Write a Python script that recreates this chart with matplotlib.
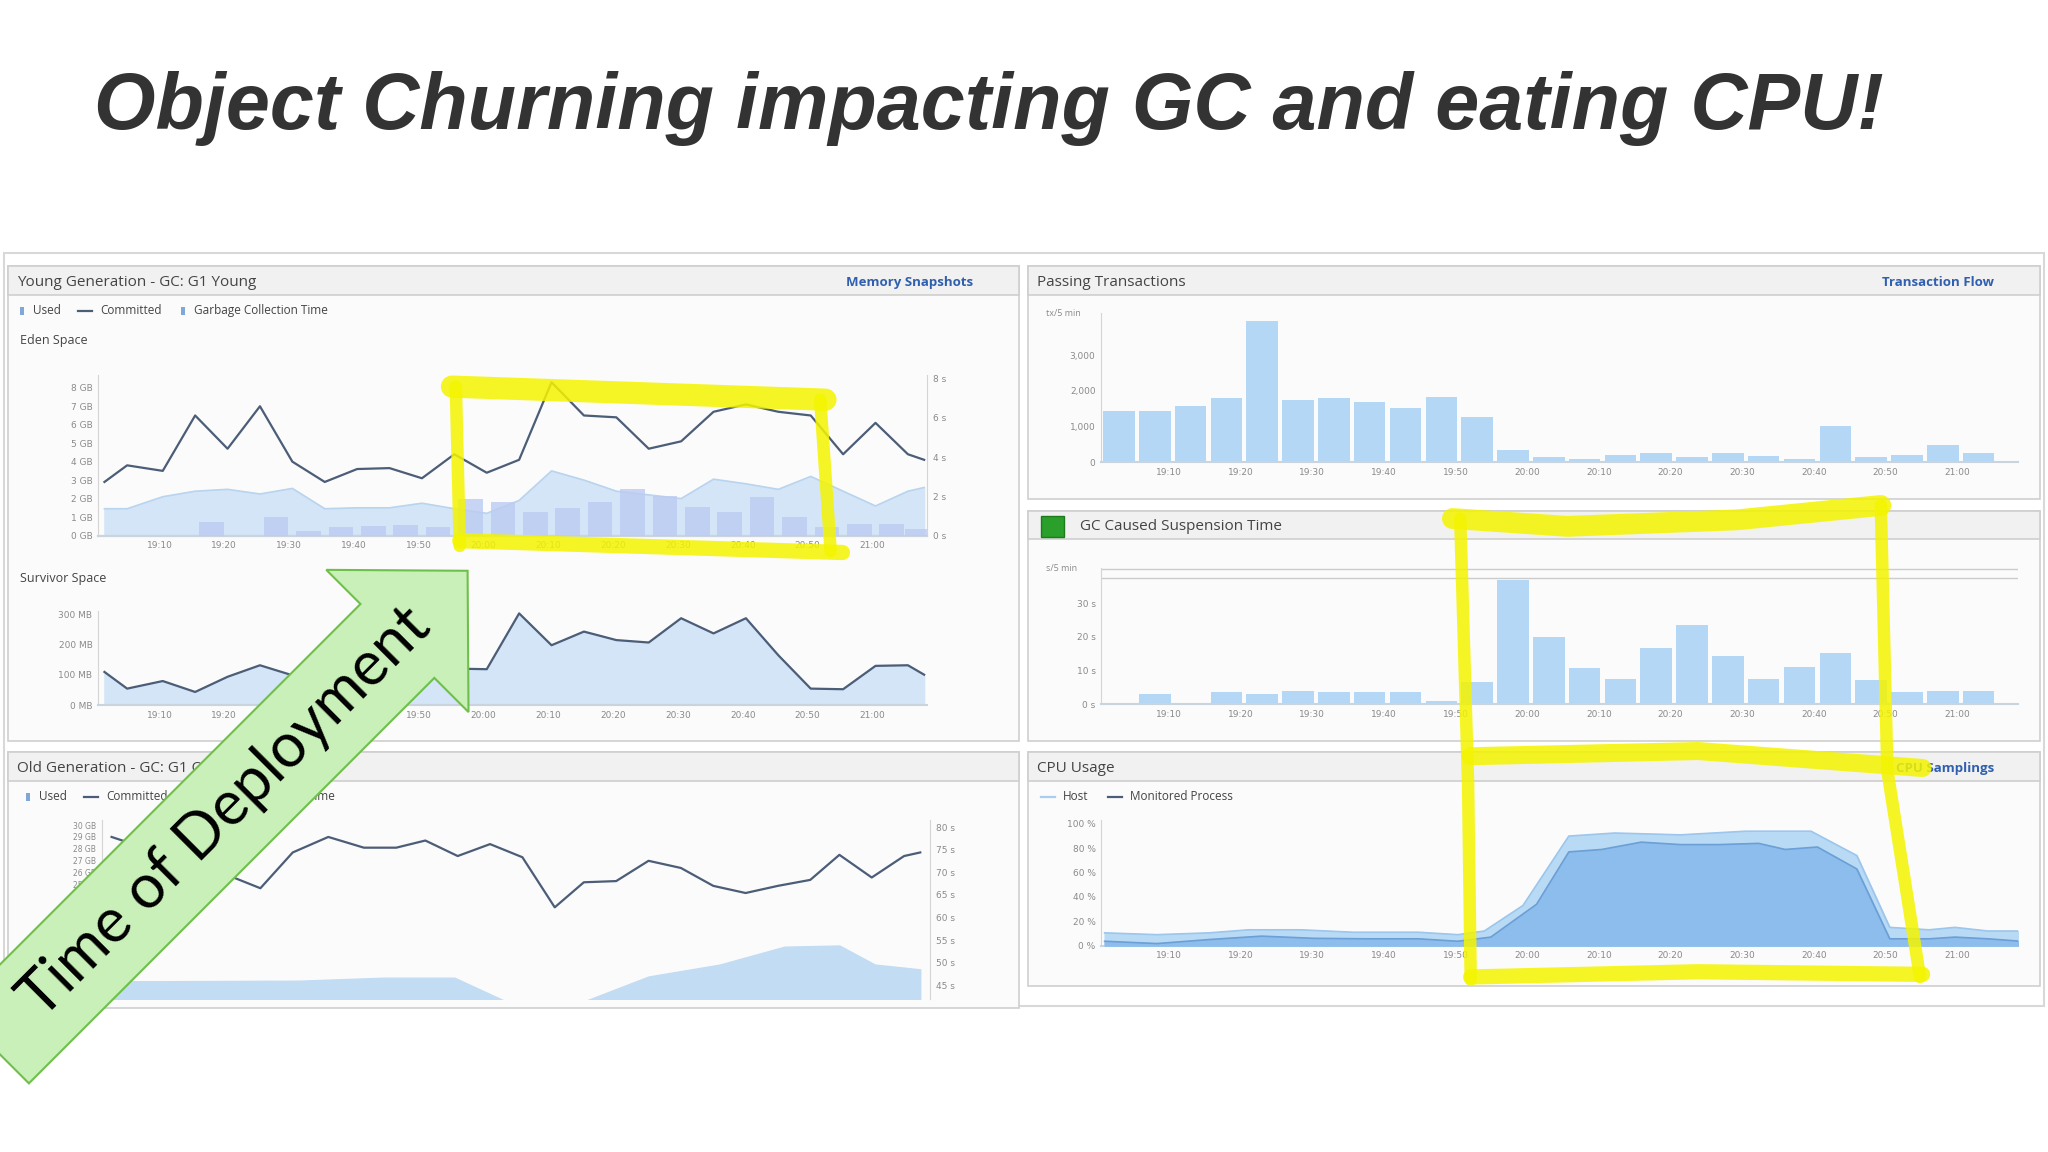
import matplotlib
matplotlib.use("Agg")
import matplotlib.pyplot as plt
from matplotlib.patches import Rectangle, Polygon
import numpy as np

# ---- data (time = minutes after 19:00) ----
tick_min = [10, 20, 30, 40, 50, 60, 70, 80, 90, 100, 110, 120]
tick_lbl = ["19:10", "19:20", "19:30", "19:40", "19:50", "20:00", "20:10",
            "20:20", "20:30", "20:40", "20:50", "21:00"]

eden_t = [1.5, 5, 10.5, 15.5, 20.5, 25.5, 30.5, 35.5, 40.5, 45.5, 50.5, 55.5, 60.5, 65.5,
          70.5, 75.5, 80.5, 85.5, 90.5, 95.5, 100.5, 105.5, 110.5, 115.5, 120.5, 125.5, 128]
eden_committed = [2.9, 3.8, 3.5, 6.5, 4.7, 7.0, 4.0, 2.9, 3.6, 3.65, 3.1, 4.4, 3.4, 4.1,
                  8.3, 6.5, 6.4, 4.7, 5.1, 6.7, 7.1, 6.7, 6.5, 4.4, 6.1, 4.4, 4.1]
eden_used = [1.45, 1.45, 2.1, 2.4, 2.5, 2.25, 2.55, 1.45, 1.5, 1.5, 1.75, 1.45, 1.2, 1.9,
             3.5, 3.0, 2.4, 2.2, 2.0, 3.05, 2.8, 2.5, 3.2, 2.4, 1.6, 2.4, 2.6]
gc_t = [18, 23, 28, 33, 38, 43, 48, 53, 58, 63, 68, 73, 78, 83, 88, 93, 98, 103, 108,
        113, 118, 123, 127]
gc_time = [0.7, 0, 0.95, 0.25, 0.45, 0.5, 0.55, 0.45, 1.85, 1.7, 1.2, 1.4, 1.7, 2.35,
           2.0, 1.45, 1.2, 1.95, 0.95, 0.45, 0.6, 0.6, 0.35]
survivor = [110, 55, 80, 44, 94, 132, 99, 160, 140, 125, 130, 121, 119, 303, 198, 243,
            215, 207, 287, 237, 287, 165, 55, 53, 130, 132, 101]

old_t = [2, 7, 12, 19, 25, 30, 35.5, 41, 46, 50.5, 55.5, 60.5, 65.5, 70.5, 75, 80, 85,
         90, 95, 100, 105, 110, 114.5, 119.5, 124.5, 127]
old_committed = [29.0, 28.1, 27.3, 26.0, 24.7, 27.7, 29.0, 28.1, 28.1, 28.7, 27.4, 28.4,
                 27.3, 23.1, 25.2, 25.3, 27.0, 26.4, 24.9, 24.3, 24.9, 25.4, 27.5, 25.6,
                 27.4, 27.7]
old_used_t = [2, 6, 31, 44, 55, 63, 74, 85, 96, 106, 114.5, 120, 127]
old_used = [16.9, 16.9, 16.95, 17.2, 17.2, 15.2, 15.0, 17.3, 18.3, 19.8, 19.9, 18.3, 17.9]

tx_t = [3, 8, 13, 18, 23, 28, 33, 38, 43, 48, 53, 58, 63, 68, 73, 78, 83, 88, 93, 98,
        103, 108, 113, 118, 123, 127.5]
transactions = [1430, 1430, 1580, 1800, 3970, 1750, 1800, 1700, 1530, 1820, 1260, 350,
                145, 95, 210, 260, 145, 270, 170, 95, 1030, 145, 210, 480, 260, 50]
suspension = [0, 3, 0, 3.5, 3, 3.8, 3.5, 3.5, 3.5, 1, 6.6, 37, 20, 10.6, 7.6, 16.8, 23.5,
              14.2, 7.6, 10.9, 15.2, 7.2, 3.5, 3.8, 3.8, 0]

host_t = [1, 8.3, 15.6, 21.1, 28.4, 35.7, 44.8, 50.3, 54, 59.4, 65.8, 72.2, 81.4, 90.5,
          99.6, 106, 110.6, 116.1, 119.7, 124.3, 128.9]
host_cpu = [10.5, 9, 10.5, 13, 13, 11, 11, 9, 12, 33, 90, 92.5, 91, 94, 94, 74, 15, 13,
            15, 12, 12]
proc_t = [1, 8.3, 15.6, 22.9, 30.2, 37.5, 44.8, 50.3, 54.9, 61.3, 65.8, 70.4, 75.9, 81.4,
          86.8, 92.3, 96, 100.5, 106, 110.6, 116.1, 119.7, 124.3, 128.9]
proc_cpu = [3.6, 1.7, 5, 7.8, 6, 5.6, 5.6, 3.6, 7, 34, 77, 79, 85, 83, 83, 84, 79, 81, 63,
            5.6, 5.6, 7, 5.6, 3.6]

# ---- style ----
LINE = "#4c5d78"
FILL = "#d3e5f6"
FILL_EDGE = "#b9d4ee"
BAR = "#b3d7f5"
GCBAR = "#bccbf2"
TICK = "#8a8a8a"
LINK = "#2f5fae"
YEL = "#f4f400"
FONT = "Open Sans"

fig = plt.figure(figsize=(20.48, 11.52), dpi=100)
W, H = 1568.0, 882.0  # working coordinates (scaled slide)


def rect(x0, y0, x1, y1):
    return [x0 / W, 1 - y1 / H, (x1 - x0) / W, (y1 - y0) / H]


bg = fig.add_axes([0, 0, 1, 1], zorder=0)
bg.set_xlim(0, W)
bg.set_ylim(H, 0)
bg.axis("off")

bg.text(72, 83, "Object Churning impacting GC and eating CPU!", fontsize=57,
        fontweight="bold", fontstyle="italic", family="Liberation Sans",
        color="#333333", va="center", ha="left")

bg.add_patch(Rectangle((3, 194), 1562, 576, fc="white", ec="#d8d8d8", lw=1.5))


def panel(x0, y0, x1, y1, title, link=None, icon=False):
    bg.add_patch(Rectangle((x0, y0), x1 - x0, y1 - y0, fc="#fbfbfb", ec="#cfcfcf", lw=1.2))
    bg.add_patch(Rectangle((x0, y0), x1 - x0, 22, fc="#f1f1f1", ec="#cfcfcf", lw=1.2))
    tx = x0 + 7
    if icon:
        bg.add_patch(Rectangle((x0 + 10, y0 + 4), 18, 16, fc="#2aa02a", ec="#1d7a1d"))
        tx = x0 + 40
    bg.text(tx, y0 + 12, title, fontsize=11, family=FONT, color="#444444", va="center")
    if link:
        bg.text(x1 - 35, y0 + 12, link, fontsize=9.5, family=FONT, color=LINK,
                fontweight="bold", va="center", ha="right")


panel(6, 204, 780, 567, "Young Generation - GC: G1 Young", "Memory Snapshots")
panel(6, 576, 780, 772, "Old Generation - GC: G1 Old")
panel(787, 204, 1562, 382, "Passing Transactions", "Transaction Flow")
panel(787, 391, 1562, 567, "GC Caused Suspension Time", icon=True)
panel(787, 576, 1562, 755, "CPU Usage", "CPU Samplings")


def legend_row(x, y, items):
    for kind, label in items:
        if kind == "bar":
            bg.add_patch(Rectangle((x, y - 3), 3, 6, fc="#7fa8d8", ec="none"))
            x += 10
        else:
            bg.plot([x, x + 11], [y, y], color=kind, lw=1.6)
            x += 17
        bg.text(x, y, label, fontsize=8.5, family=FONT, color="#444444", va="center")
        x += len(label) * 5.6 + 12


legend_row(15, 238, [("bar", "Used"), (LINE, "Committed"), ("bar", "Garbage Collection Time")])
legend_row(20, 610, [("bar", "Used"), (LINE, "Committed"), ("bar", "Garbage Collection Time")])
legend_row(797, 610, [("#a8cdee", "Host"), (LINE, "Monitored Process")])
bg.text(15, 261, "Eden Space", fontsize=9, family=FONT, color="#444444", va="center")
bg.text(15, 443, "Survivor Space", fontsize=9, family=FONT, color="#444444", va="center")


def style(ax, xlim=(0.5, 128.5), xt=True):
    ax.set_facecolor("none")
    ax.set_xlim(*xlim)
    for s in ["top", "right"]:
        ax.spines[s].set_visible(False)
    ax.spines["left"].set_color("#d5d5d5")
    ax.spines["bottom"].set_color("#c9d4de")
    ax.spines["bottom"].set_linewidth(1.5)
    ax.tick_params(length=0, labelsize=6.5, colors=TICK, pad=4)
    if xt:
        ax.set_xticks(tick_min, tick_lbl)
    else:
        ax.set_xticks([])


# Eden space
ax = fig.add_axes(rect(75, 287, 710, 410), zorder=1)
style(ax)
ax.fill_between(eden_t, eden_used, color=FILL, zorder=1)
ax.plot(eden_t, eden_used, color=FILL_EDGE, lw=1.2, zorder=2)
ax.plot(eden_t, eden_committed, color=LINE, lw=1.6, zorder=4)
ax.set_ylim(0, 8.7)
ax.set_yticks(range(9), [f"{v} GB" for v in range(9)])
ax2 = ax.twinx()
ax2.bar(gc_t, gc_time, width=3.8, color=GCBAR, alpha=0.8, zorder=3)
ax2.set_ylim(0, 8.2)
ax2.set_yticks([0, 2, 4, 6, 8], ["0 s", "2 s", "4 s", "6 s", "8 s"])
style(ax2)
ax2.spines["left"].set_visible(False)
ax2.spines["right"].set_visible(True)
ax2.spines["right"].set_color("#d5d5d5")

# Survivor space
ax = fig.add_axes(rect(75, 468, 710, 540), zorder=1)
style(ax)
ax.fill_between(eden_t, survivor, color=FILL, zorder=1)
ax.plot(eden_t, survivor, color=LINE, lw=1.6)
ax.set_ylim(0, 310)
ax.set_yticks([0, 100, 200, 300], ["0 MB", "100 MB", "200 MB", "300 MB"])

# Old generation
ax = fig.add_axes(rect(78, 628, 712, 765), zorder=1)
style(ax, xt=False)
ax.spines["bottom"].set_visible(False)
ax.fill_between(old_used_t, old_used, 10, color="#c2dcf3", zorder=1)
ax.plot(old_t, old_committed, color=LINE, lw=1.6)
ax.set_ylim(15.4, 30.4)
ax.set_yticks(range(23, 31), [f"{v} GB" for v in range(23, 31)])
ax.tick_params(labelsize=5.5)
ax2 = ax.twinx()
style(ax2, xt=False)
ax2.spines["left"].set_visible(False)
ax2.spines["bottom"].set_visible(False)
ax2.spines["right"].set_visible(True)
ax2.spines["right"].set_color("#d5d5d5")
ax2.set_ylim(42, 81.5)
ax2.set_yticks(range(45, 81, 5), [f"{v} s" for v in range(45, 81, 5)])

# Passing transactions
ax = fig.add_axes(rect(843, 240, 1545, 354), zorder=1)
style(ax)
ax.bar(tx_t, transactions, width=4.4, color=BAR)
ax.set_ylim(0, 4170)
ax.set_yticks([0, 1000, 2000, 3000], ["0", "1,000", "2,000", "3,000"])
bg.text(801, 240, "tx/5 min", fontsize=6.5, color=TICK, family=FONT, va="center")

# GC suspension
ax = fig.add_axes(rect(843, 435, 1545, 539), zorder=1)
style(ax)
ax.bar(tx_t, suspension, width=4.4, color=BAR)
ax.set_ylim(0, 40.5)
ax.set_yticks([0, 10, 20, 30], ["0 s", "10 s", "20 s", "30 s"])
ax.axhline(40.3, color="#cccccc", lw=1)
ax.axhline(37.6, color="#cccccc", lw=1)
bg.text(801, 435, "s/5 min", fontsize=6.5, color=TICK, family=FONT, va="center")

# CPU usage
ax = fig.add_axes(rect(843, 628, 1545, 724), zorder=1)
style(ax)
ax.fill_between(host_t, host_cpu, color="#b8daf5", zorder=1)
ax.plot(host_t, host_cpu, color="#9cc6ec", lw=1.2, zorder=2)
ax.fill_between(proc_t, proc_cpu, color="#8dbdec", zorder=3)
ax.plot(proc_t, proc_cpu, color="#6c9fd6", lw=1.2, zorder=4)
ax.set_ylim(0, 103)
ax.set_yticks([0, 20, 40, 60, 80, 100], ["0 %", "20 %", "40 %", "60 %", "80 %", "100 %"])

# ---- overlay: yellow marker strokes and deployment arrow ----
top = fig.add_axes([0, 0, 1, 1], zorder=10)
top.set_xlim(0, W)
top.set_ylim(H, 0)
top.axis("off")
top.set_facecolor("none")


def stroke(xs, ys, lw=9):
    top.plot(xs, ys, color=YEL, lw=lw, alpha=0.85, solid_capstyle="round",
             solid_joinstyle="round")


stroke([346, 632], [296, 306], lw=16)
stroke([349, 352], [296, 418], lw=9)
stroke([628, 636], [306, 422], lw=9)
stroke([352, 645], [414, 423], lw=11)
stroke([1112, 1200, 1330, 1440], [397, 403, 398, 387], lw=15)
stroke([1118, 1124, 1126], [397, 600, 750], lw=9)
stroke([1440, 1445, 1470], [387, 590, 748], lw=9)
stroke([1126, 1300, 1472], [579, 575, 588], lw=13)
stroke([1126, 1300, 1472], [748, 744, 746], lw=11)

# arrow pointing up-right at 45 degrees, tip at the top-right corner
tip = np.array([358.0, 437.0])
u = np.array([1.0, -1.0]) / np.sqrt(2)
n = np.array([-u[1], u[0]])
L, hl, sw, hw = 515, 76, 40, 77
base = tip - u * hl
tail = tip - u * L
pts = [tip, base + n * hw, base + n * sw, tail + n * sw, tail - n * sw,
       base - n * sw, base - n * hw]
top.add_patch(Polygon(pts, closed=True, fc="#c9f0b8", ec="#6fbf4a", lw=1.5))
mid = tip - u * 262
top.text(mid[0], mid[1], "Time of Deployment", fontsize=44, family="Lato",
         rotation=45, rotation_mode="anchor", ha="center", va="center", color="black")

fig.savefig("out.png", dpi=100)
